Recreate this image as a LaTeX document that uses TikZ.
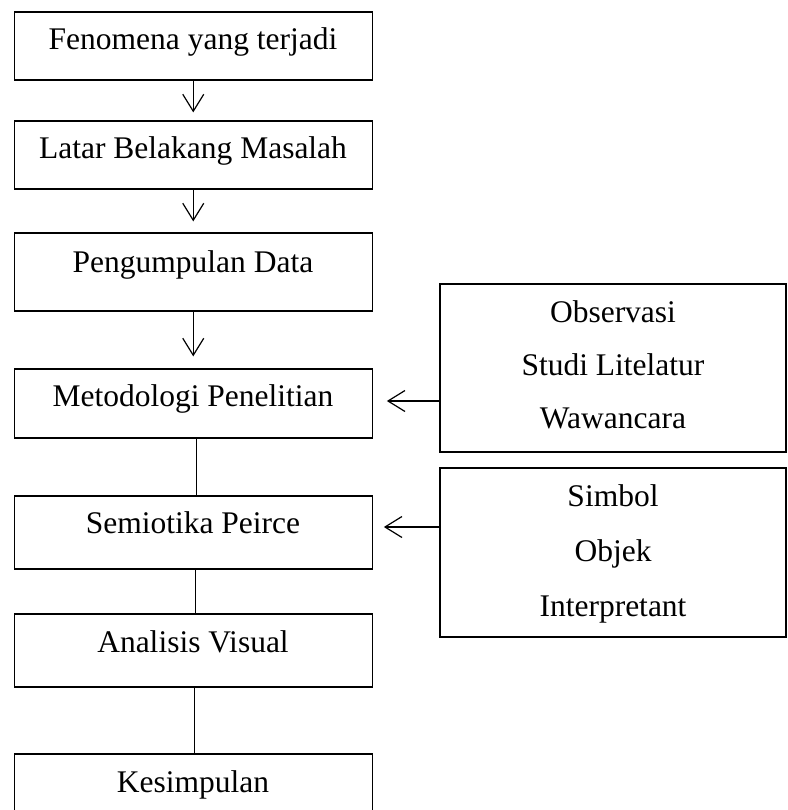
\documentclass[tikz,border=0pt]{standalone}
\usepackage{fontspec}
\setmainfont{Liberation Serif}
\usetikzlibrary{arrows.meta}
\begin{document}
\begin{tikzpicture}[x=1pt,y=-1pt,
  box/.style={draw,line width=1.2pt,inner sep=0pt,minimum width=358pt},
  rbox/.style={draw,line width=1.2pt,inner sep=0pt,minimum width=346pt},
  lbl/.style={font=\fontsize{31.5}{36}\selectfont,inner sep=0pt,anchor=base},
  arr/.style={line width=1.2pt,-{Straight Barb[length=17pt,width=21pt,line width=1.2pt]}},
  ln/.style={line width=1.2pt}]
\useasboundingbox (0,0) rectangle (787,810);
\clip (0,0) rectangle (787,810);
% left column boxes
\node[box,minimum height=68pt] (b1) at (193.25,46) {};
\node[box,minimum height=68pt] (b2) at (193.25,155) {};
\node[box,minimum height=78pt] (b3) at (193.25,272) {};
\node[box,minimum height=69pt] (b4) at (193.25,403.5) {};
\node[box,minimum height=73pt] (b5) at (193.25,532.5) {};
\node[box,minimum height=73pt] (b6) at (193.25,650.5) {};
\node[box,minimum height=76pt] (b7) at (193.25,792) {};
% left texts
\node[lbl] (t1) at (193,50) {Fenomena yang terjadi};
\node[lbl] (t2) at (193,159) {Latar Belakang Masalah};
\node[lbl] (t3) at (193,272) {Pengumpulan Data};
\node[lbl] (t4) at (193,406) {Metodologi Penelitian};
\node[lbl] (t5) at (193,533) {Semiotika Peirce};
\node[lbl] (t6) at (193,652) {Analisis Visual};
\node[lbl] (t7) at (193,792) {Kesimpulan};
% right boxes
\node[rbox,minimum height=168pt] (ra) at (613,368) {};
\node[rbox,minimum height=169pt] (rb) at (613,552.5) {};
\node[lbl] (ra1) at (613,322) {Observasi};
\node[lbl] (ra2) at (613,375) {Studi Litelatur};
\node[lbl] (ra3) at (613,428) {Wawancara};
\node[lbl] (rb1) at (613,506) {Simbol};
\node[lbl] (rb2) at (613,561) {Objek};
\node[lbl] (rb3) at (613,616) {Interpretant};
% connectors
\draw[arr,shorten >=8pt] (b1) -- (b2);
\draw[arr,shorten >=11pt] (b2) -- (b3);
\draw[arr,shorten >=12pt] (b3) -- (b4);
\draw[ln] ([xshift=3pt]b4.south) -- ([xshift=3pt]b5.north);
\draw[ln] ([xshift=2pt]b5.south) -- ([xshift=2pt]b6.north);
\draw[ln] ([xshift=1pt]b6.south) -- ([xshift=1pt]b7.north);
\coordinate (ya) at (0,401);
\coordinate (yb) at (0,527);
\draw[arr,shorten >=14pt] (ra.west |- ya) -- (b4.east |- ya);
\draw[arr,shorten >=11pt] (rb.west |- yb) -- (b5.east |- yb);
\end{tikzpicture}
\end{document}
